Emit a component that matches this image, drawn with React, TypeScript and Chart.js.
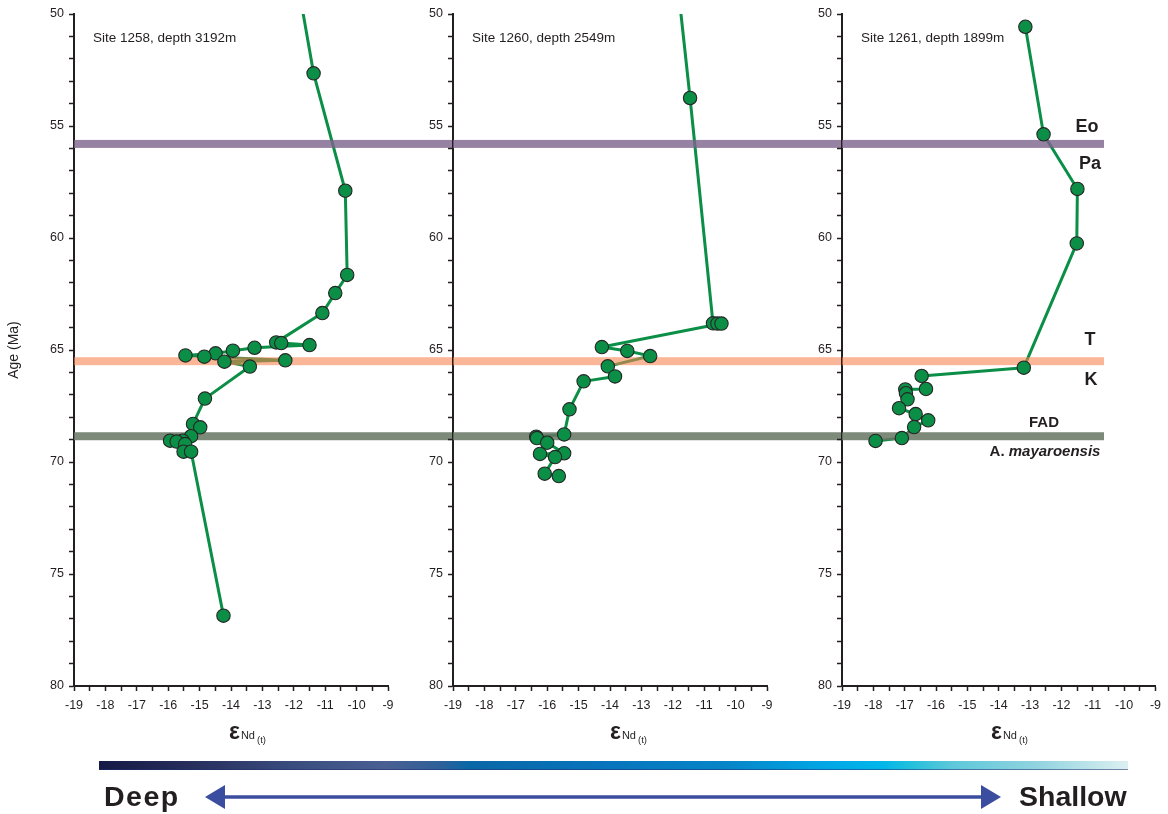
import React, { useEffect, useRef } from 'react';
import { Chart, registerables } from 'chart.js';

Chart.register(...registerables);

// ---- Site 1258, depth 3192 m ----
// record continues above the top of the age axis
const site1258TrendAge = [50.0];
const site1258TrendEps = [-11.7];
const site1258Age = [
  52.65, 57.89, 61.65, 62.46, 63.35, 64.66, 64.69, 64.78, 64.9, 65.03, 65.15, 65.24, 65.3,
  65.46, 65.52, 65.74, 67.17, 68.3, 68.45, 68.85, 69.05, 69.05, 69.09, 69.2, 69.54, 69.54, 76.86,
];
const site1258Eps = [
  -11.37, -10.36, -10.3, -10.68, -11.09, -12.56, -12.4, -11.5, -13.25, -13.94, -14.49, -15.45, -14.85,
  -12.27, -14.21, -13.4, -14.83, -15.21, -14.98, -15.27, -15.54, -15.94, -15.73, -15.46, -15.51, -15.27, -14.24,
];

// ---- Site 1260, depth 2549 m ----
const site1260TrendAge = [50.0];
const site1260TrendEps = [-11.74];
const site1260Age = [
  53.75, 63.81, 63.82, 63.82, 64.87, 65.04, 65.27, 65.73, 66.18, 66.4, 67.65, 68.77, 68.87,
  68.93, 69.14, 69.61, 69.64, 69.78, 70.52, 70.63,
];
const site1260Eps = [
  -11.45, -10.72, -10.58, -10.45, -14.26, -13.45, -12.72, -14.07, -13.84, -14.84, -15.29, -15.46, -16.35,
  -16.33, -16.0, -15.46, -16.23, -15.75, -16.08, -15.63,
];

// ---- Site 1261, depth 1899 m ----
const site1261TrendAge: number[] = [];
const site1261TrendEps: number[] = [];
const site1261Age = [
  50.57, 55.37, 57.81, 60.24, 65.79, 66.16, 66.74, 66.76, 66.93, 67.2, 67.6, 67.86, 68.14, 68.44, 68.93, 69.06,
];
const site1261Eps = [
  -13.15, -12.57, -11.49, -11.51, -13.2, -16.46, -16.32, -16.98, -16.96, -16.91, -17.18, -16.65, -16.25, -16.7,
  -17.09, -17.93,
];

// Boundaries: Paleocene/Eocene, Cretaceous/Tertiary, FAD of A. mayaroensis
const boundaryAges = [55.8, 65.5, 68.85];

// Axis ticks
const ageTickLabels = [50, 55, 60, 65, 70, 75, 80];
const epsTickLabels = [-19, -18, -17, -16, -15, -14, -13, -12, -11, -10, -9];

const W = 1168;
const H = 814;
const FONT = "'Liberation Sans', Arial, Helvetica, sans-serif";
const INK = '#231f20';
const GREEN = '#0b8f47';
const BAND_COLORS = ['rgba(124,99,139,0.8)', 'rgba(246,131,77,0.59)', 'rgba(102,118,99,0.85)'];
const BAND_PX = 8;
const AREA_TOP = 14;
const AREA_BOTTOM = 686;
const XAXIS_H = 40;

type Panel = {
  site: string;
  trendAge: number[];
  trendEps: number[];
  age: number[];
  eps: number[];
  left: number;
  right: number;
  yAxisWidth: number;
  bandFrom: number;
  bandTo: number;
  titleOffset: number;
  yTitle?: string;
  stageLabels?: boolean;
};

const panels: Panel[] = [
  {
    site: 'Site 1258, depth 3192m',
    trendAge: site1258TrendAge, trendEps: site1258TrendEps,
    age: site1258Age, eps: site1258Eps,
    left: 74, right: 388, yAxisWidth: 74, bandFrom: 74, bandTo: 453, titleOffset: 155,
    yTitle: 'Age (Ma)',
  },
  {
    site: 'Site 1260, depth 2549m',
    trendAge: site1260TrendAge, trendEps: site1260TrendEps,
    age: site1260Age, eps: site1260Eps,
    left: 453, right: 767, yAxisWidth: 40, bandFrom: 453, bandTo: 842, titleOffset: 157,
  },
  {
    site: 'Site 1261, depth 1899m',
    trendAge: site1261TrendAge, trendEps: site1261TrendEps,
    age: site1261Age, eps: site1261Eps,
    left: 842, right: 1156, yAxisWidth: 40, bandFrom: 842, bandTo: 1104, titleOffset: 149,
    stageLabels: true,
  },
];

// Stage / event labels beside the boundary bands (offsets in px from the band centre)
const stageText = [
  { parts: [{ t: 'Eo', italic: false }], band: 0, dy: -11.5, x: 1087, size: 18 },
  { parts: [{ t: 'Pa', italic: false }], band: 0, dy: 25, x: 1090, size: 18 },
  { parts: [{ t: 'T', italic: false }], band: 1, dy: -16, x: 1090, size: 18 },
  { parts: [{ t: 'K', italic: false }], band: 1, dy: 24, x: 1091, size: 18 },
  { parts: [{ t: 'FAD', italic: false }], band: 2, dy: -9.5, x: 1044, size: 15 },
  {
    parts: [
      { t: 'A. ', italic: false },
      { t: 'mayaroensis', italic: true },
    ],
    band: 2, dy: 20, x: 1045, size: 15,
  },
];

function buildChart(canvas: HTMLCanvasElement, p: Panel) {
  const lineData = [
    ...p.trendEps.map((x, i) => ({ x, y: p.trendAge[i] })),
    ...p.eps.map((x, i) => ({ x, y: p.age[i] })),
  ];
  const markerData = p.eps.map((x, i) => ({ x, y: p.age[i] }));

  const bandPlugin = {
    id: 'boundaryBands',
    beforeDatasetDraw(chart: any, args: any) {
      if (args.index !== 1) return;
      const ctx = chart.ctx;
      const ys = chart.scales.y;
      ctx.save();
      boundaryAges.forEach((age, i) => {
        const y = ys.getPixelForValue(age);
        ctx.fillStyle = BAND_COLORS[i];
        ctx.fillRect(p.bandFrom, y - BAND_PX / 2, p.bandTo - p.bandFrom, BAND_PX);
      });
      ctx.restore();
    },
  };

  const textPlugin = {
    id: 'panelText',
    afterDraw(chart: any) {
      const ctx = chart.ctx;
      const area = chart.chartArea;
      const ys = chart.scales.y;
      ctx.save();
      ctx.fillStyle = INK;
      ctx.textBaseline = 'alphabetic';
      ctx.textAlign = 'left';
      // site label
      ctx.font = `13.5px ${FONT}`;
      ctx.fillText(p.site, area.left + 19, 42);

      // x-axis title: epsilon Nd(t)
      const tx = area.left + p.titleOffset;
      ctx.font = `bold 23px ${FONT}`;
      ctx.fillText('\u03b5', tx, 738.5);
      const ew = ctx.measureText('\u03b5').width;
      ctx.font = `11px ${FONT}`;
      ctx.fillText('Nd', tx + ew + 1, 739);
      const nw = ctx.measureText('Nd').width;
      ctx.font = `9.5px ${FONT}`;
      ctx.fillText('(t)', tx + ew + nw + 3, 742.5);

      if (p.stageLabels) {
        stageText.forEach((s) => {
          const y = ys.getPixelForValue(boundaryAges[s.band]) + s.dy;
          const fonts = s.parts.map((pt) => `${pt.italic ? 'italic ' : ''}bold ${s.size}px ${FONT}`);
          let total = 0;
          const widths = s.parts.map((pt, i) => {
            ctx.font = fonts[i];
            const w = ctx.measureText(pt.t).width;
            total += w;
            return w;
          });
          let x = s.x - total / 2;
          s.parts.forEach((pt, i) => {
            ctx.font = fonts[i];
            ctx.fillText(pt.t, x, y);
            x += widths[i];
          });
        });
      }
      ctx.restore();
    },
  };

  return new Chart(canvas, {
    type: 'scatter',
    data: {
      datasets: [
        {
          data: lineData,
          showLine: true,
          borderColor: GREEN,
          borderWidth: 3,
          borderJoinStyle: 'round',
          borderCapStyle: 'round',
          pointRadius: 0,
          pointHoverRadius: 0,
          order: 2,
        },
        {
          data: markerData,
          showLine: false,
          pointRadius: 6.7,
          pointHoverRadius: 6.7,
          pointBackgroundColor: GREEN,
          pointBorderColor: '#262626',
          pointBorderWidth: 1.1,
          order: 1,
        },
      ],
    } as any,
    options: {
      responsive: false,
      maintainAspectRatio: false,
      animation: false,
      devicePixelRatio: 1,
      events: [],
      layout: {
        padding: {
          left: p.left - p.yAxisWidth,
          right: W - p.right,
          top: AREA_TOP,
          bottom: H - AREA_BOTTOM - XAXIS_H,
        },
      },
      plugins: { legend: { display: false }, tooltip: { enabled: false } },
      scales: {
        x: {
          type: 'linear',
          position: 'bottom',
          min: -19,
          max: -9,
          afterFit: (s: any) => {
            s.height = XAXIS_H;
          },
          ticks: {
            stepSize: 0.5,
            autoSkip: false,
            maxRotation: 0,
            minRotation: 0,
            padding: 7,
            color: INK,
            font: { family: FONT, size: 12.5 },
            callback: (v: any) => (epsTickLabels.includes(Number(v)) ? String(v) : ''),
          },
          grid: { drawOnChartArea: false, drawTicks: true, tickLength: 5, tickWidth: 1.5, tickColor: INK },
          border: { display: true, color: INK, width: 2 },
        },
        y: {
          type: 'linear',
          position: 'left',
          reverse: true,
          min: 50,
          max: 80,
          afterFit: (s: any) => {
            s.width = p.yAxisWidth;
          },
          ticks: {
            stepSize: 1,
            autoSkip: false,
            padding: 5,
            color: INK,
            font: { family: FONT, size: 12.5 },
            callback: (v: any) => (ageTickLabels.includes(Number(v)) ? String(v) : ''),
          },
          grid: { drawOnChartArea: false, drawTicks: true, tickLength: 5, tickWidth: 1.5, tickColor: INK },
          border: { display: true, color: INK, width: 2 },
          title: p.yTitle
            ? {
                display: true,
                text: p.yTitle,
                color: INK,
                font: { family: FONT, size: 14 },
                padding: { top: 6, bottom: 0 },
              }
            : { display: false },
        },
      },
    } as any,
    plugins: [bandPlugin, textPlugin],
  });
}

export default function App() {
  const r0 = useRef<HTMLCanvasElement>(null);
  const r1 = useRef<HTMLCanvasElement>(null);
  const r2 = useRef<HTMLCanvasElement>(null);

  useEffect(() => {
    const refs = [r0, r1, r2];
    const charts = panels.map((p, i) => buildChart(refs[i].current as HTMLCanvasElement, p));
    return () => charts.forEach((c) => c.destroy());
  }, []);

  const refs = [r0, r1, r2];
  const labelStyle: React.CSSProperties = {
    position: 'absolute',
    top: 782,
    fontFamily: FONT,
    fontWeight: 'bold',
    fontSize: 28.5,
    lineHeight: '29px',
    color: INK,
    whiteSpace: 'nowrap',
  };

  return (
    <div
      style={{
        position: 'absolute',
        left: 0,
        top: 0,
        width: W,
        height: H,
        background: '#ffffff',
        overflow: 'hidden',
      }}
    >
      {panels.map((p, i) => (
        <canvas
          key={p.site}
          ref={refs[i]}
          width={W}
          height={H}
          style={{ position: 'absolute', left: 0, top: 0, width: W, height: H }}
        />
      ))}

      {/* water-depth colour scale */}
      <div
        style={{
          position: 'absolute',
          left: 99,
          top: 761,
          width: 1029,
          height: 8,
          background:
            'linear-gradient(to right, #151945 0%, #272e5c 9%, #3a4d7f 19%, #4a5f92 28%, #2f6099 33%, #0a67a6 36%, #0874bc 49%, #0685c8 61%, #00a8e6 71%, #00b6ea 76%, #24c0dc 79%, #5ec8da 83%, #90d3df 91%, #dcf0f2 100%)',
          borderBottom: '1px solid rgba(30,50,110,0.55)',
        }}
      />

      <svg
        width={W}
        height={44}
        style={{ position: 'absolute', left: 0, top: 770 }}
        viewBox={`0 0 ${W} 44`}
      >
        <line x1={220} y1={27} x2={984} y2={27} stroke="#3b4d9e" strokeWidth={3.5} />
        <polygon points="205,27 225,15 225,39" fill="#3b4d9e" />
        <polygon points="1001,27 981,15 981,39" fill="#3b4d9e" />
      </svg>

      <div style={{ ...labelStyle, left: 104, letterSpacing: 1.5 }}>Deep</div>
      <div style={{ ...labelStyle, left: 1019 }}>Shallow</div>
    </div>
  );
}
